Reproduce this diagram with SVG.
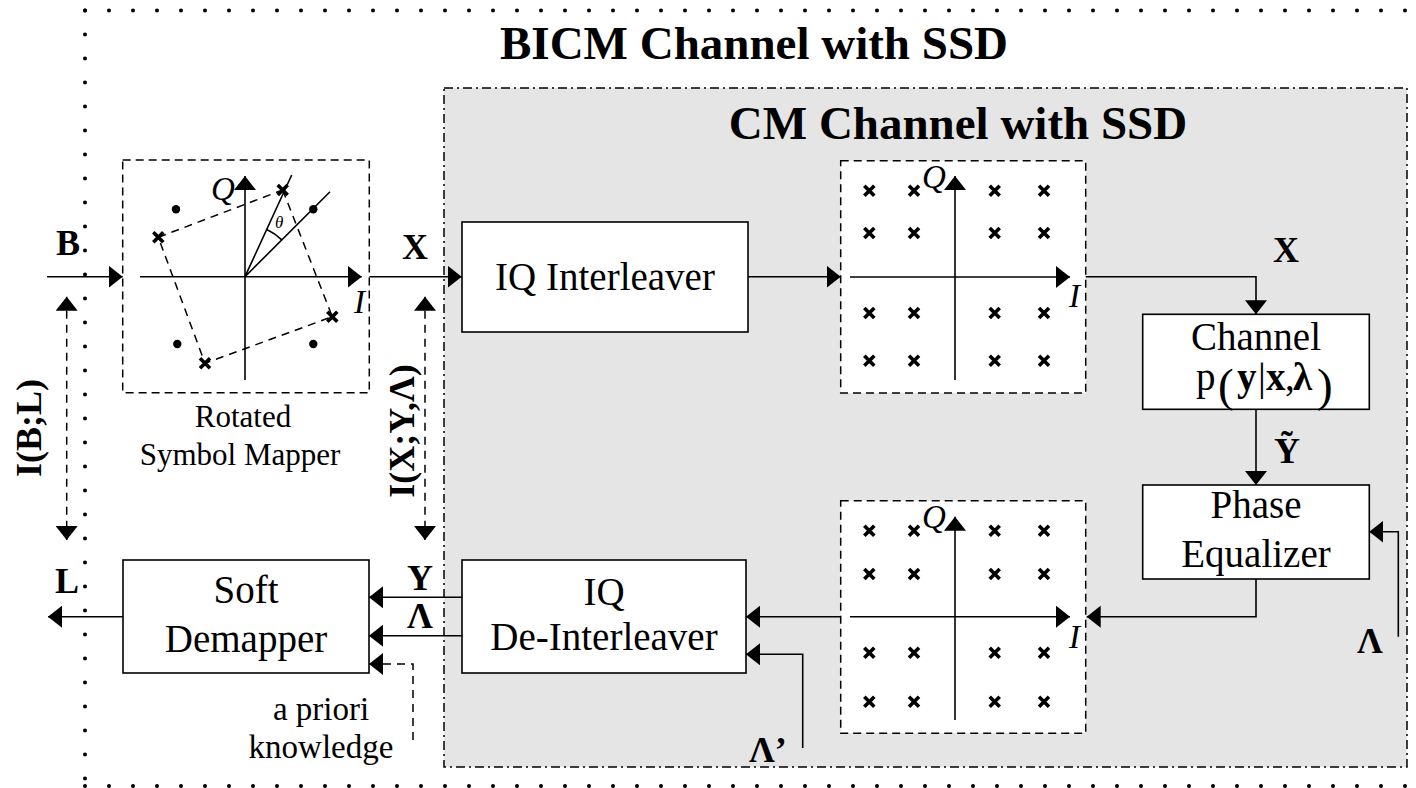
<svg xmlns="http://www.w3.org/2000/svg" width="1416" height="788" viewBox="0 0 1416 788">
<defs>
<marker id="ah" markerUnits="userSpaceOnUse" markerWidth="14" markerHeight="22" refX="14" refY="11" orient="auto-start-reverse">
<path d="M0,0 L14,11 L0,22 z" fill="#000"/>
</marker>
<path id="cx" d="M-5,-5 L5,5 M5,-5 L-5,5" stroke="#000" stroke-width="3.6" fill="none"/>
</defs>
<style>
.t{font-family:"Liberation Serif","Times New Roman",serif;fill:#000}
.b{font-weight:bold}
.i{font-style:italic}
.m{text-anchor:middle}
.box{fill:#fff;stroke:#000;stroke-width:1.6}
.dbox{fill:#fff;stroke:#000;stroke-width:1.5;stroke-dasharray:8 5}
.ln{fill:none;stroke:#000;stroke-width:1.6}
.dl{fill:none;stroke:#000;stroke-width:1.5;stroke-dasharray:8 6}
.dots{fill:none;stroke:#000;stroke-width:4;stroke-linecap:round;stroke-dasharray:0 24}
.ar{marker-end:url(#ah)}
.ar2{marker-start:url(#ah);marker-end:url(#ah)}
</style>
<rect width="1416" height="788" fill="#fff"/>

<g id="bicm-border">
<path class="dots" d="M85,10.5 H1416"/>
<path class="dots" d="M85,10.5 V780"/>
<path class="dots" d="M85,786 H1416"/>
<text class="t b m" x="754" y="59" font-size="47">BICM Channel with SSD</text>
</g>

<g id="cm-channel">
<rect x="444" y="88" width="963" height="679" fill="#e5e5e5" stroke="#000" stroke-width="1.5" stroke-dasharray="9 4 2 4"/>
<text class="t b m" x="958" y="139" font-size="47">CM Channel with SSD</text>
</g>

<g id="mapper">
<rect class="dbox" x="122.7" y="160" width="246.6" height="232.7"/>
<path class="ln ar" d="M140,276.7 H361.7"/>
<path class="ln ar" d="M245,380 V176"/>
<path class="dl" d="M282.7,190 L332.3,316.7 L205,363.3 L158.3,237.3 Z"/>
<path class="ln" d="M245,276.7 L291.7,175 M245,276.7 L330,191.7" stroke-width="1.4"/>
<path class="ln" d="M266.7,229.5 A52,52 0 0,1 281.8,239.9" stroke-width="1.4"/>
<text class="t i" x="275" y="228" font-size="17">θ</text>
<use href="#cx" x="282.7" y="190"/>
<use href="#cx" x="332.3" y="316.7"/>
<use href="#cx" x="205" y="363.3"/>
<use href="#cx" x="158.3" y="237.3"/>
<circle cx="176" cy="209.3" r="4.2"/>
<circle cx="313.3" cy="209.3" r="4.2"/>
<circle cx="177.3" cy="344" r="4.2"/>
<circle cx="313.3" cy="344" r="4.2"/>
<text class="t i" x="211" y="200" font-size="33">Q</text>
<text class="t i" x="354" y="313" font-size="33">I</text>
<text class="t m" x="243" y="427" font-size="31">Rotated</text>
<text class="t m" x="240" y="465" font-size="31">Symbol Mapper</text>
</g>

<g id="iq-interleaver">
<rect class="box" x="462" y="222" width="286" height="110"/>
<text class="t m" x="605" y="290" font-size="39">IQ Interleaver</text>
</g>

<g id="const-upper">
<rect class="dbox" x="840.7" y="160.7" width="245" height="232.3"/>
<path class="ln ar" d="M850,277 H1070"/>
<path class="ln ar" d="M955,380 V176"/>
<use href="#cx" x="869.3" y="190.7"/><use href="#cx" x="914" y="190.7"/><use href="#cx" x="994.7" y="190.7"/><use href="#cx" x="1044" y="190.7"/>
<use href="#cx" x="869.3" y="233"/><use href="#cx" x="914" y="233"/><use href="#cx" x="994.7" y="233"/><use href="#cx" x="1044" y="233"/>
<use href="#cx" x="869.3" y="313"/><use href="#cx" x="914" y="313"/><use href="#cx" x="994.7" y="313"/><use href="#cx" x="1044" y="313"/>
<use href="#cx" x="869.3" y="360.7"/><use href="#cx" x="914" y="360.7"/><use href="#cx" x="994.7" y="360.7"/><use href="#cx" x="1044" y="360.7"/>
<text class="t i" x="922" y="188" font-size="33">Q</text>
<text class="t i" x="1069" y="307" font-size="33">I</text>
</g>

<g id="channel">
<rect class="box" x="1142.7" y="314.3" width="226.6" height="95"/>
<text class="t m" x="1256" y="350" font-size="39">Channel</text>
<text class="t" y="390" font-size="39"><tspan x="1196">p</tspan><tspan x="1218" y="401" font-size="47">(</tspan><tspan class="b" x="1237" y="390">y</tspan><tspan x="1258">|</tspan><tspan class="b" x="1266">x</tspan><tspan x="1285">,</tspan><tspan class="b" x="1293">λ</tspan><tspan x="1317" y="401" font-size="47">)</tspan></text>
</g>

<g id="phase-equalizer">
<rect class="box" x="1142.7" y="485" width="226.6" height="94"/>
<text class="t m" x="1256" y="518" font-size="39">Phase</text>
<text class="t m" x="1256" y="567" font-size="39">Equalizer</text>
</g>

<g id="const-lower">
<rect class="dbox" x="840.7" y="500.7" width="245" height="232.5"/>
<path class="ln ar" d="M850,616.7 H1070"/>
<path class="ln ar" d="M955,720 V516.7"/>
<use href="#cx" x="869.3" y="530.7"/><use href="#cx" x="914" y="530.7"/><use href="#cx" x="994.7" y="530.7"/><use href="#cx" x="1044" y="530.7"/>
<use href="#cx" x="869.3" y="574"/><use href="#cx" x="914" y="574"/><use href="#cx" x="994.7" y="574"/><use href="#cx" x="1044" y="574"/>
<use href="#cx" x="869.3" y="652.7"/><use href="#cx" x="914" y="652.7"/><use href="#cx" x="994.7" y="652.7"/><use href="#cx" x="1044" y="652.7"/>
<use href="#cx" x="869.3" y="701.7"/><use href="#cx" x="914" y="701.7"/><use href="#cx" x="994.7" y="701.7"/><use href="#cx" x="1044" y="701.7"/>
<text class="t i" x="922" y="528" font-size="33">Q</text>
<text class="t i" x="1069" y="648" font-size="33">I</text>
</g>

<g id="iq-deinterleaver">
<rect class="box" x="462" y="560" width="284" height="113"/>
<text class="t m" x="604" y="605" font-size="39">IQ</text>
<text class="t m" x="604" y="650" font-size="39">De-Interleaver</text>
</g>

<g id="soft-demapper">
<rect class="box" x="123" y="560" width="246" height="113"/>
<text class="t m" x="246" y="603" font-size="39">Soft</text>
<text class="t m" x="246" y="652" font-size="39">Demapper</text>
</g>

<g id="connectors">
<path class="ln ar" d="M47,276.7 H122.7"/>
<path class="ln ar" d="M369.3,276.7 H461.7"/>
<path class="ln ar" d="M748,276.7 H840.7"/>
<path class="ln ar" d="M1085.7,276.7 H1256 V314.3"/>
<path class="ln ar" d="M1256,409.3 V485"/>
<path class="ln ar" d="M1398.3,636.7 V531.7 H1369.3"/>
<path class="ln ar" d="M1256,579 V616.7 H1086.7"/>
<path class="ln ar" d="M840.7,616.7 H746"/>
<path class="ln ar" d="M802.7,748 V654.3 H746"/>
<path class="ln ar" d="M462.5,597.3 H369"/>
<path class="ln ar" d="M462.5,635.7 H369"/>
<path class="dl ar" d="M413,740 V664 H369"/>
<path class="ln ar" d="M123,616.7 H48"/>
<path class="dl ar2" d="M66.7,296.7 V540"/>
<path class="dl ar2" d="M425,296.7 V540"/>
</g>

<g id="labels">
<text class="t b" x="56" y="255" font-size="36">B</text>
<text class="t b" x="402" y="259" font-size="36">X</text>
<text class="t b m" x="1286" y="262" font-size="36">X</text>
<text class="t b m" x="1287" y="463" font-size="36">Ỹ</text>
<text class="t b" x="1357" y="653" font-size="36">Λ</text>
<text class="t b" x="749" y="762" font-size="36">Λ’</text>
<text class="t b" x="407" y="590" font-size="36">Y</text>
<text class="t b" x="407" y="628" font-size="36">Λ</text>
<text class="t b" x="55" y="593" font-size="36">L</text>
<text class="t m" x="321" y="720" font-size="33">a priori</text>
<text class="t m" x="321" y="758" font-size="33">knowledge</text>
<text class="t b m" transform="translate(41,428) rotate(-90)" font-size="36">I(B;L)</text>
<text class="t b m" transform="translate(414,431) rotate(-90)" font-size="36">I(X;Y,Λ)</text>
</g>
</svg>
